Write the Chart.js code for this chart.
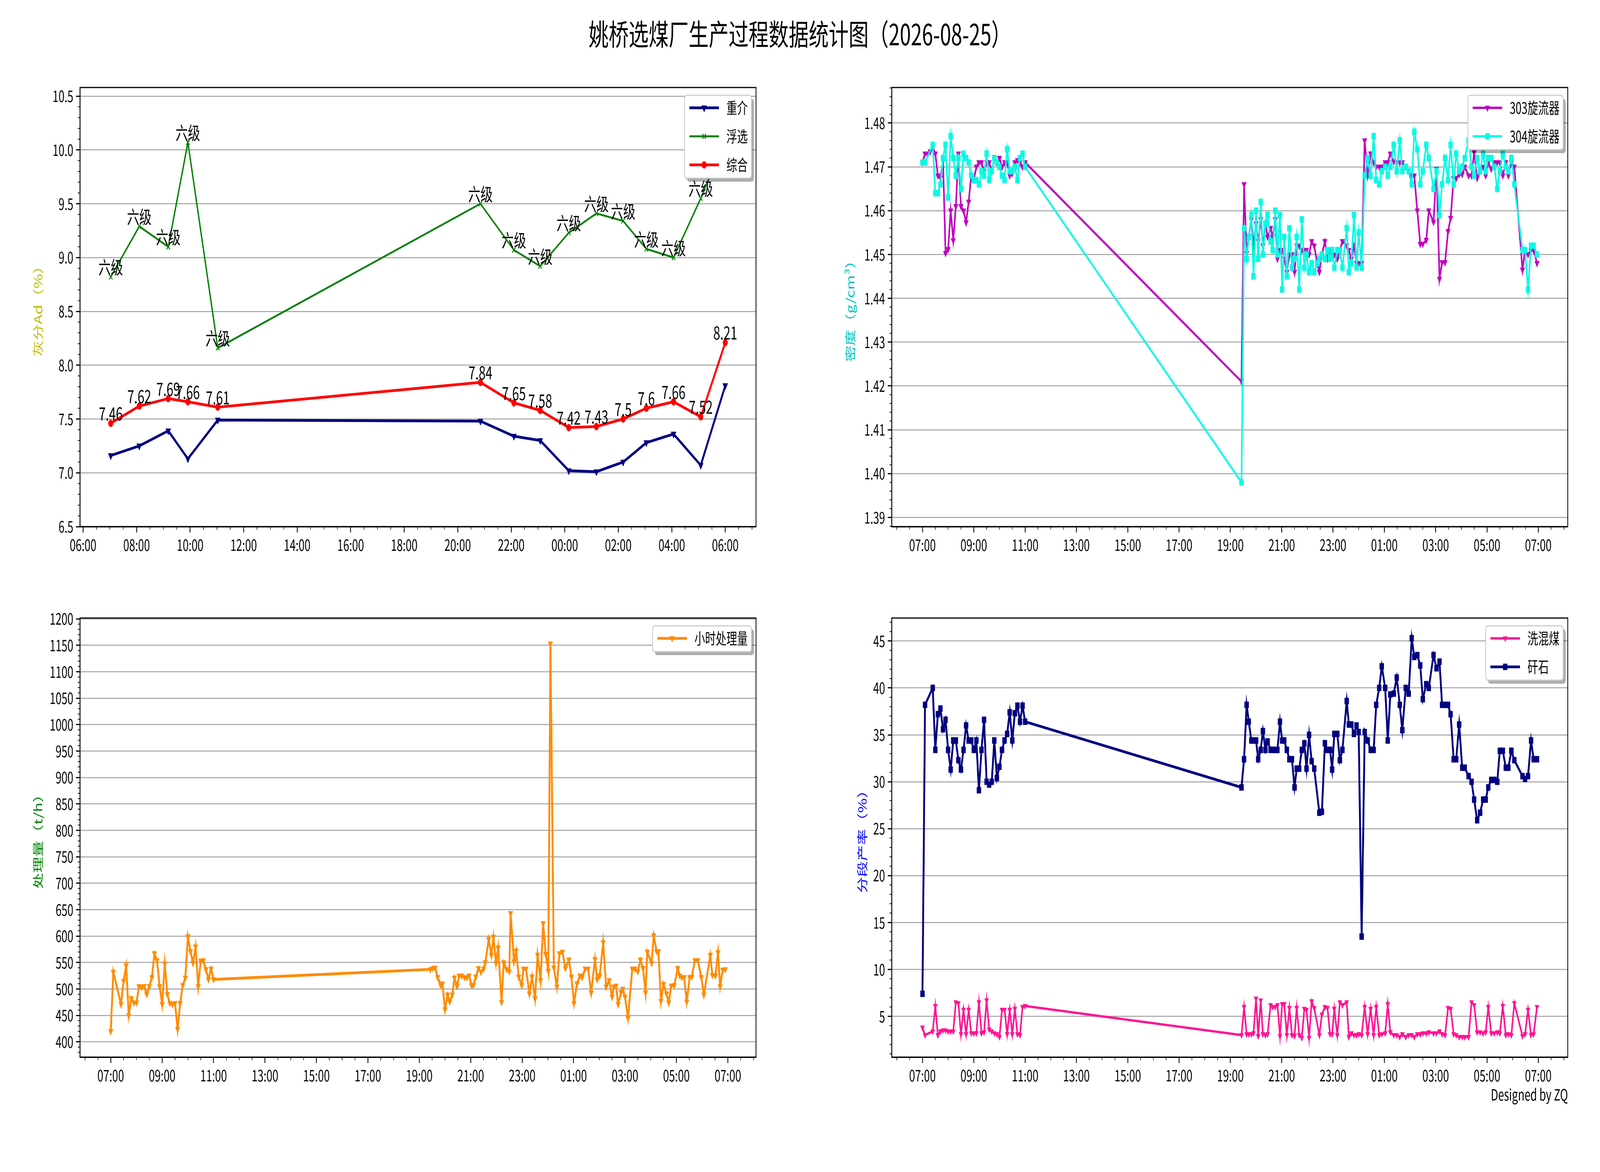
<!DOCTYPE html>
<html>
<head>
<meta charset="utf-8">
<script src="https://cdn.jsdelivr.net/npm/chart.js@4.4.1/dist/chart.umd.min.js"></script>
<style>
  html, body { margin: 0; background: #fff; overflow: hidden; }
  body { font-family: 'Noto Sans CJK SC', sans-serif; }
  #stage { position: absolute; left: 0; top: 0; width: 6000px; height: 3000px; transform-origin: 0 0; background: #fff; }
  .panel { position: absolute; }
  #title { position: absolute; left: 0; width: 6000px; top: 38px; text-align: center; font-size: 75px; line-height: 92px; }
  #sign { position: absolute; right: 120px; top: 2776px; font-size: 40px; line-height: 48px; }
</style>
</head>
<body>
<div id="stage">
  <div id="title">姚桥选煤厂生产过程数据统计图（2026-08-25）</div>
  <div class="panel" style="left:0;top:190px;width:2855px;height:1328px"><canvas id="ash"></canvas></div>
  <div class="panel" style="left:3044px;top:190px;width:2855px;height:1328px"><canvas id="dens"></canvas></div>
  <div class="panel" style="left:0;top:1548px;width:2855px;height:1328px"><canvas id="flow"></canvas></div>
  <div class="panel" style="left:3044px;top:1548px;width:2855px;height:1328px"><canvas id="yield"></canvas></div>
  <div id="sign">Designed by ZQ</div>
</div>
<script>
// ---- ash (top left)
const ashTimes = ['07:02','08:06','09:11','09:55','11:02','20:51','22:06','23:05','00:09','01:11','02:11','03:03','04:04','05:05','06:00'];
const heavyAsh = [7.16, 7.25, 7.39, 7.13, 7.49, 7.48, 7.34, 7.30, 7.02, 7.01, 7.10, 7.28, 7.36, 7.07, 7.81];
const flotAsh  = [8.82, 9.29, 9.10, 10.07, 8.16, 9.50, 9.07, 8.92, 9.23, 9.41, 9.34, 9.08, 9.00, 9.55, 10.10];
const mixAsh   = [7.46, 7.62, 7.69, 7.66, 7.61, 7.84, 7.65, 7.58, 7.42, 7.43, 7.5, 7.6, 7.66, 7.52, 8.21];
const flotGrade = ['六级','六级','六级','六级','六级','六级','六级','六级','六级','六级','六级','六级','六级','六级','六级'];
const ashTicks = [6.5, 7.0, 7.5, 8.0, 8.5, 9.0, 9.5, 10.0, 10.5];
const ashHourTicks = ['06:00','08:00','10:00','12:00','14:00','16:00','18:00','20:00','22:00','00:00','02:00','04:00','06:00'];

// ---- shared sample times (density, yields)
const timesA = ('07:00 07:06 07:12 07:18 07:24 07:30 07:36 07:42 07:48 07:54 08:00 08:06 08:12 08:18 08:24 08:30 08:36 08:42 08:48 08:54 ' +
  '09:00 09:06 09:12 09:18 09:24 09:30 09:36 09:42 09:48 09:54 10:00 10:06 10:12 10:18 10:24 10:30 10:36 10:42 10:48 10:54 11:00').split(' ');
const gapTime = ['19:26'];
const timesB1 = ('19:32 19:38 19:43 19:49 19:54 20:00 20:05 20:11 20:16 20:22 20:27 20:34 20:39 20:45 20:50 20:56 21:01 21:06 21:12 21:18 ' +
  '21:24 21:30 21:35 21:41 21:47 21:53 21:58 22:04 22:10 22:16 22:23 22:28 22:34 22:41 22:47 22:53 22:58 23:03 23:10 23:16 ' +
  '23:22 23:32 23:37 23:43 23:49 23:55 00:00 00:07 00:14 00:21 00:28 00:35 00:41 00:48 00:54 01:02 01:08 01:14').split(' ');
const timesB2 = ('01:22 01:29 01:36 01:42 01:50 01:57 02:04 02:10 02:17 02:24 02:30 02:38 02:44 02:55 03:02 03:09 03:15 03:22 03:29 03:35 ' +
  '03:42 03:48 03:55 04:02 04:08 04:17 04:24 04:30 04:37 04:44 04:51 04:57 05:03 05:10 05:17 05:24 05:30 05:37 05:44 05:50 ' +
  '05:57 06:04 06:11 06:18 06:23 06:29 06:36 06:43 06:49 06:57').split(' ');
const dayHourTicks = ['07:00','09:00','11:00','13:00','15:00','17:00','19:00','21:00','23:00','01:00','03:00','05:00','07:00'];

// ---- density (top right)
const c303A = [1.471, 1.473, 1.473, 1.4735, 1.4745, 1.473, 1.468, 1.4675, 1.4715, 1.4503, 1.4512, 1.460, 1.4532, 1.461, 1.473, 1.461,
  1.460, 1.4573, 1.462, 1.468, 1.467, 1.470, 1.471, 1.471, 1.469, 1.471, 1.471, 1.469, 1.472, 1.471, 1.472, 1.470, 1.471, 1.471,
  1.468, 1.4685, 1.471, 1.4715, 1.471, 1.470, 1.471];
const c303Gap = [1.421];
const c303B1 = [1.466, 1.4503, 1.454, 1.458, 1.452, 1.457, 1.453, 1.458, 1.452, 1.457, 1.454, 1.456, 1.454, 1.458, 1.449, 1.451,
  1.451, 1.449, 1.446, 1.450, 1.450, 1.446, 1.452, 1.452, 1.451, 1.451, 1.451, 1.450, 1.453, 1.452, 1.448, 1.446, 1.450, 1.453,
  1.449, 1.451, 1.450, 1.450, 1.449, 1.451, 1.453, 1.452, 1.451, 1.449, 1.452, 1.448, 1.448, 1.448, 1.476, 1.468, 1.473, 1.471,
  1.470, 1.470, 1.470, 1.471, 1.471, 1.473];
const c303B2 = [1.4712, 1.471, 1.471, 1.471, 1.470, 1.469, 1.468, 1.468, 1.460, 1.4524, 1.4524, 1.4533, 1.460, 1.4574, 1.4695, 1.4444,
  1.4482, 1.4482, 1.4553, 1.4583, 1.4674, 1.4674, 1.4683, 1.4683, 1.470, 1.468, 1.468, 1.4733, 1.4674, 1.469, 1.470, 1.468, 1.471,
  1.4695, 1.471, 1.471, 1.471, 1.468, 1.471, 1.468, 1.471, 1.470, null, null, 1.4465, 1.451, 1.450, 1.451, 1.451, 1.448];
const c304A = [1.471, 1.471, null, null, 1.475, 1.464, 1.464, 1.466, 1.472, 1.475, 1.463, 1.477, 1.472, 1.468, 1.472, 1.465, 1.473,
  1.472, 1.471, 1.468, 1.467, 1.467, 1.466, 1.469, 1.468, 1.473, 1.467, 1.469, 1.472, 1.471, 1.470, 1.468, 1.467, 1.474, 1.469,
  1.469, 1.470, 1.467, 1.472, 1.473, 1.470];
const c304Gap = [1.398];
const c304B1 = [1.456, 1.449, 1.454, 1.459, 1.445, 1.460, 1.449, 1.462, 1.450, 1.457, 1.459, 1.453, 1.451, 1.460, 1.450, 1.459,
  1.442, 1.454, 1.445, 1.456, 1.447, 1.449, 1.454, 1.442, 1.458, 1.447, 1.450, 1.446, 1.448, 1.446, 1.448, 1.449, 1.450, 1.449,
  1.451, 1.449, 1.451, 1.447, 1.451, 1.451, 1.447, 1.456, 1.446, 1.448, 1.459, 1.447, 1.455, 1.447, 1.468, 1.472, 1.468, 1.477,
  1.467, 1.466, 1.469, 1.470, 1.468, 1.470];
const c304B2 = [1.475, 1.469, 1.476, 1.469, 1.470, 1.469, 1.466, 1.478, 1.474, 1.466, 1.469, 1.475, 1.472, 1.465, 1.469, 1.459,
  1.466, 1.472, 1.467, 1.475, 1.466, 1.473, 1.469, 1.470, 1.472, 1.476, 1.470, 1.468, 1.472, 1.469, 1.473, 1.469, 1.472, 1.472,
  1.470, 1.465, 1.469, 1.473, 1.470, 1.469, 1.472, 1.466, null, null, 1.451, 1.451, 1.442, 1.452, 1.452, 1.450];
const densTicks = [1.39, 1.40, 1.41, 1.42, 1.43, 1.44, 1.45, 1.46, 1.47, 1.48];

// ---- hourly throughput (bottom left)
const flowA = [420, 532, null, null, 471, 515, 544, 450, 482, 474, 474, 505, 503, 505, 490, 505, 522, 567, 554, 505, 471, 548, 490,
  473, 471, 473, 424, 473, 507, 521, 599, 571, 549, 580, 505, 553, 554, 537, 518, 538, 518];
const flowTimesB = ('19:26 19:32 19:37 19:43 19:50 19:54 20:00 20:06 20:11 20:17 20:22 20:28 20:33 20:39 20:45 20:51 20:56 21:02 21:06 21:12 ' +
  '21:18 21:24 21:30 21:34 21:42 21:48 21:53 21:59 22:04 22:12 22:17 22:24 22:30 22:33 22:41 22:46 22:52 22:59 23:03 23:09 ' +
  '23:17 23:23 23:30 23:36 23:43 23:49 23:55 00:01 00:06 00:14 00:21 00:27 00:34 00:41 00:49 00:55 01:01 01:08 01:15 01:20 ' +
  '01:27 01:34 01:41 01:50 01:55 02:01 02:09 02:16 02:23 02:30 02:34 02:39 02:44 02:51 02:55 03:00 03:07 03:17 03:23 03:30 ' +
  '03:36 03:42 03:48 03:52 04:02 04:07 04:14 04:18 04:24 04:30 04:37 04:42 04:48 04:55 05:03 05:08 05:13 05:18 05:24 05:31 ' +
  '05:36 05:43 05:50 05:58 06:04 06:19 06:24 06:31 06:37 06:42 06:48 06:54').split(' ');
const flowB = [537, 539, 540, 522, 507, 510, 461, 489, 476, 489, 521, 505, 525, 525, 522, 522, 525, 507, 507, 523,
  539, 532, 538, 550, 594, 564, 598, 549, 578, 475, 550, 537, 533, 643, 552, 572, 523, 507, 538, 538,
  491, 523, 482, 564, 516, 624, 566, 534, 1153, 540, 504, 567, 570, 539, 555, 523, 473, 510, 525, 522,
  538, 538, 493, 556, 518, 525, 588, 504, 516, 485, 504, 506, 471, 494, 500, 485, 445, 538, 538, 533,
  555, 539, 493, 570, 549, 601, 571, 571, 477, 509, 491, 474, 506, 507, 539, 525, 522, 522, 476, 522,
  523, 554, 554, 522, 489, 564, 526, 525, 569, 505, 536, 537];
const flowTicks = [400, 450, 500, 550, 600, 650, 700, 750, 800, 850, 900, 950, 1000, 1050, 1100, 1150, 1200];

// ---- section yields (bottom right)
const mixA = [3.8, 3.0, null, null, 3.4, 6.1, 3.0, 3.4, 3.5, 3.5, 3.4, 3.4, 3.4, 6.5, 6.4, 3.1, 5.7, 3.1, 5.7, 3.2, 3.2, 3.2,
  6.5, 3.2, 3.3, 6.7, 3.6, 3.4, 3.2, 3.1, 2.8, 5.7, 5.7, 3.1, 5.7, 3.1, 5.8, 3.1, 3.0, 6.0, 6.1];
const mixGap = [3.0];
const mixB1 = [6.0, 3.1, 3.1, 3.1, 3.2, 6.9, 2.9, 6.7, 3.1, 3.0, 3.1, 6.2, 6.0, 6.0, 6.2, 2.9, 6.3, 6.3, 3.0, 5.9,
  3.0, 2.9, 5.9, 3.0, 2.7, 5.8, 5.7, 2.7, 6.6, 5.9, null, 3.0, 5.2, 6.0, 5.9, 3.1, 3.1, 5.8, 3.0, 6.5,
  6.2, 6.5, 2.8, 3.2, 3.0, 3.0, 3.1, 3.0, 6.0, 3.1, 5.8, 3.0, 6.0, 3.0, 3.1, 3.2, 6.3, 3.3];
const mixB2 = [3.0, 3.0, 2.8, 3.1, 2.8, 3.0, 3.0, 2.8, 3.1, 3.1, 3.2, 3.2, 3.3, 3.2, 3.2, 3.4, 3.1, 3.0, 5.9, 5.8,
  3.1, 3.0, 2.8, 2.8, 2.8, 2.8, 6.5, 6.2, 3.3, 3.3, 3.2, 3.3, 6.0, 3.2, 3.2, 3.3, 3.2, 6.1, 3.0, 3.1,
  3.0, 6.4, null, null, 2.9, 3.1, 5.7, 3.0, 3.1, 6.0];
const gangA = [7.4, 38.2, null, null, 40.0, 33.4, 37.2, 37.8, 35.6, 36.6, 33.4, 31.3, 34.4, 34.4, 32.3, 31.3, 33.4, 36.0, 34.4,
  34.4, 33.4, 34.4, 29.1, 33.4, 36.6, 30.0, 29.7, 30.0, 34.4, 30.4, 31.6, 33.4, 34.4, 35.1, 37.4, 34.4, 37.3, 38.1, 36.4, 38.1, 36.4];
const gangGap = [29.4];
const gangB1 = [32.4, 38.2, 36.4, 34.4, 34.4, 34.4, 32.4, 33.4, 35.4, 33.4, 34.3, 33.4, 33.4, 33.4, 33.4, 36.4, 34.4, 34.4, 33.4, 32.4,
  32.4, 29.4, 31.4, 31.4, 33.4, 34.1, 31.4, 35.0, 32.2, 31.4, null, 26.7, 26.8, 34.1, 33.4, 33.4, 31.3, 35.1, 35.1, 32.3,
  33.4, 38.6, 36.1, 36.1, 35.1, 36.0, 35.3, 13.5, 35.3, 34.4, 33.4, 33.4, 38.2, 40.0, 42.3, 40.0, 34.4, 39.3];
const gangB2 = [39.4, 41.1, 38.2, 35.5, 40.0, 39.4, 45.3, 43.3, 43.5, 42.4, 38.8, 40.4, 40.0, 43.5, 42.1, 42.8, 38.2, 38.2, 38.2, 37.2,
  32.4, 32.4, 36.1, 31.5, 31.5, 30.6, 30.0, 28.1, 25.9, 26.7, 28.1, 28.1, 29.4, 30.2, 30.2, 30.0, 33.3, 33.3, 31.5, 31.5,
  33.3, 32.3, null, null, 30.6, 30.3, 30.6, 34.4, 32.4, 32.4];
const yieldTicks = [5, 10, 15, 20, 25, 30, 35, 40, 45];

// ---------------------------------------------------------------
const FONT = "'Noto Sans CJK SC', sans-serif";
Chart.defaults.font.family = FONT;

// the drawing is laid out at 6000x3000; stretch it onto the real viewport
const stage = document.getElementById('stage');
const sx = window.innerWidth / 6000, sy = window.innerHeight / 3000;
if (Math.abs(sx - 1) > 0.001 || Math.abs(sy - 1) > 0.001) stage.style.transform = 'scale(' + sx + ',' + sy + ')';

// "HH:MM" list -> hours, rolling into the next day when the clock goes back
function toHours(list) {
  let day = 0, prev = -1;
  return list.map(s => {
    const [h, m] = s.split(':').map(Number);
    const v = h + m / 60;
    if (v < prev) day += 24;
    prev = v;
    return v + day;
  });
}
function fmtHour(v) {
  const h = ((Math.round(v) % 24) + 24) % 24;
  return String(h).padStart(2, '0') + ':00';
}

function series(label, xs, ys, color, style, r, lw, order) {
  return {
    label, order,
    data: xs.map((x, i) => ({ x, y: ys[i] })),
    borderColor: color, backgroundColor: color, borderWidth: lw,
    pointStyle: style, pointRotation: style === 'triangle' ? 180 : 0, pointRadius: r,
    pointBackgroundColor: color, pointBorderColor: color, pointBorderWidth: style === 'crossRot' ? 3 : 1,
    spanGaps: true, tension: 0
  };
}

const decor = {
  id: 'decor',
  afterDatasetsDraw(chart, args, o) {
    if (!o.notes) return;
    const ctx = chart.ctx;
    ctx.save();
    ctx.font = '46px ' + FONT;
    ctx.fillStyle = '#000';
    ctx.textAlign = 'center';
    ctx.textBaseline = 'bottom';
    o.notes.forEach(n => {
      chart.getDatasetMeta(n.ds).data.forEach((p, i) => {
        if (n.texts[i] != null) ctx.fillText(n.texts[i], p.x, p.y - 2);
      });
    });
    ctx.restore();
  },
  afterDraw(chart, args, o) {
    const ctx = chart.ctx, a = chart.chartArea, xs = chart.scales.x, ys = chart.scales.y;
    ctx.save();
    // spines
    ctx.strokeStyle = '#000';
    ctx.lineWidth = 3;
    ctx.strokeRect(a.left, a.top, a.right - a.left, a.bottom - a.top);
    // minor ticks
    ctx.lineWidth = 2;
    ctx.beginPath();
    for (let k = Math.ceil(xs.min / o.xMinor); k * o.xMinor <= xs.max; k++) {
      const px = xs.getPixelForValue(k * o.xMinor);
      ctx.moveTo(px, a.bottom); ctx.lineTo(px, a.bottom + 8);
    }
    for (let k = Math.ceil(ys.min / o.yMinor - 1e-6); k * o.yMinor <= ys.max + 1e-9; k++) {
      const py = ys.getPixelForValue(k * o.yMinor);
      ctx.moveTo(a.left, py); ctx.lineTo(a.left - 8, py);
    }
    ctx.stroke();
    // y title
    ctx.save();
    ctx.translate(a.left - o.yTitle.offset, (a.top + a.bottom) / 2);
    ctx.rotate(-Math.PI / 2);
    ctx.font = '41px ' + FONT;
    ctx.fillStyle = o.yTitle.color;
    ctx.textAlign = 'center';
    ctx.textBaseline = 'middle';
    ctx.fillText(o.yTitle.text, 0, 0);
    ctx.restore();
    // legend with shadow
    ctx.font = '40px ' + FONT;
    const items = o.legend;
    const tw = Math.max(...items.map(it => ctx.measureText(chart.data.datasets[it].label).width));
    const w = 18 + 111 + 28 + tw + 14, h = 66 + 73 * (items.length - 1);
    const x0 = a.right - 17 - w, y0 = a.top + 20;
    ctx.fillStyle = 'rgba(0,0,0,0.32)';
    ctx.beginPath(); ctx.roundRect(x0 + 9, y0 + 9, w, h, 8); ctx.fill();
    ctx.fillStyle = '#fff';
    ctx.strokeStyle = '#cccccc';
    ctx.lineWidth = 3;
    ctx.beginPath(); ctx.roundRect(x0, y0, w, h, 8); ctx.fill(); ctx.stroke();
    items.forEach((di, i) => {
      const ds = chart.data.datasets[di];
      const cy = y0 + 32 + 73 * i;
      ctx.strokeStyle = ds.borderColor;
      ctx.lineWidth = ds.borderWidth;
      ctx.beginPath(); ctx.moveTo(x0 + 18, cy); ctx.lineTo(x0 + 129, cy); ctx.stroke();
      ctx.fillStyle = ds.pointBackgroundColor;
      ctx.strokeStyle = ds.pointBorderColor;
      ctx.lineWidth = ds.pointBorderWidth;
      Chart.helpers.drawPoint(ctx, { pointStyle: ds.pointStyle, rotation: ds.pointRotation, radius: ds.pointRadius,
        borderWidth: ds.pointBorderWidth }, x0 + 73.5, cy);
      ctx.fillStyle = '#000';
      ctx.textAlign = 'left';
      ctx.textBaseline = 'middle';
      ctx.fillText(ds.label, x0 + 157, cy);
    });
    ctx.restore();
  }
};

function makeChart(id, datasets, opt) {
  const allX = datasets.flatMap(d => d.data.map(p => p.x));
  const lo = Math.min(...allX), hi = Math.max(...allX), pad = (hi - lo) * 0.05;
  const tickFont = { size: 40, family: FONT };
  return new Chart(document.getElementById(id), {
    type: 'line',
    data: { datasets },
    options: {
      responsive: true, maintainAspectRatio: false, animation: false, devicePixelRatio: 1,
      layout: { padding: { left: 0, top: 20, right: 20, bottom: 0 } },
      plugins: {
        legend: { display: false }, tooltip: { enabled: false },
        decor: { xMinor: 0.5, yMinor: opt.yMinor, yTitle: opt.yTitle, legend: opt.legend, notes: opt.notes }
      },
      scales: {
        x: {
          type: 'linear', min: lo - pad, max: hi + pad,
          afterBuildTicks: s => { s.ticks = opt.xTicks.map(v => ({ value: v })); },
          afterFit: s => { s.height = 170; },
          ticks: { callback: v => fmtHour(v), font: tickFont, color: '#000', padding: 8, maxRotation: 0, autoSkip: false },
          grid: { drawOnChartArea: false, drawTicks: true, tickLength: 15, tickWidth: 3, tickColor: '#000' },
          border: { display: true, color: '#000', width: 3 }
        },
        y: {
          type: 'linear', min: opt.yMin, max: opt.yMax,
          afterBuildTicks: s => { s.ticks = opt.yTicks.map(v => ({ value: v })); },
          afterFit: s => { s.width = 300; },
          ticks: { callback: opt.yFmt, font: tickFont, color: '#000', padding: 10, autoSkip: false },
          grid: { color: '#b0b0b0', lineWidth: 3, drawTicks: true, tickLength: 15, tickWidth: 3, tickColor: '#000' },
          border: { display: true, color: '#000', width: 3 }
        }
      }
    },
    plugins: [decor]
  });
}

// ---- top left
const ashX = toHours(ashTimes);
makeChart('ash', [
  series('重介', ashX, heavyAsh, '#000080', 'triangle', 11, 7, 2),
  series('浮选', ashX, flotAsh, '#008000', 'crossRot', 9, 5, 1),
  series('综合', ashX, mixAsh, '#ff0000', 'circle', 9, 7, 0)
], {
  xTicks: toHours(ashHourTicks), yTicks: ashTicks, yMin: 6.5, yMax: 10.58, yMinor: 0.1,
  yFmt: v => v.toFixed(1),
  yTitle: { text: '灰分Ad（%）', color: '#bfbf00', offset: 158 },
  legend: [0, 1, 2],
  notes: [{ ds: 1, texts: flotGrade }, { ds: 2, texts: mixAsh.map(String) }]
});

// ---- top right
const denX = toHours([...timesA, ...gapTime, ...timesB1, ...timesB2]);
makeChart('dens', [
  series('303旋流器', denX, [...c303A, ...c303Gap, ...c303B1, ...c303B2], '#bf00bf', 'triangle', 10, 6, 1),
  series('304旋流器', denX, [...c304A, ...c304Gap, ...c304B1, ...c304B2], '#0af9e3', 'rect', 11, 6, 0)
], {
  xTicks: toHours(dayHourTicks), yTicks: densTicks, yMin: 1.3879, yMax: 1.4881, yMinor: 0.002,
  yFmt: v => v.toFixed(2),
  yTitle: { text: '密度（g/cm³）', color: '#00bfbf', offset: 156 },
  legend: [0, 1]
});

// ---- bottom left
const flowX = toHours([...timesA, ...flowTimesB]);
makeChart('flow', [
  series('小时处理量', flowX, [...flowA, ...flowB], '#ff8c00', 'triangle', 10, 7, 0)
], {
  xTicks: toHours(dayHourTicks), yTicks: flowTicks, yMin: 371, yMax: 1201.5, yMinor: 10,
  yFmt: v => String(v),
  yTitle: { text: '处理量（t/h）', color: '#008000', offset: 158 },
  legend: [0]
});

// ---- bottom right
makeChart('yield', [
  series('洗混煤', denX, [...mixA, ...mixGap, ...mixB1, ...mixB2], '#ff1493', 'triangle', 9, 6, 1),
  series('矸石', denX, [...gangA, ...gangGap, ...gangB1, ...gangB2], '#000080', 'rect', 11, 7, 0)
], {
  xTicks: toHours(dayHourTicks), yTicks: yieldTicks, yMin: 0.65, yMax: 47.45, yMinor: 1,
  yFmt: v => String(v),
  yTitle: { text: '分段产率（%）', color: '#0000ff', offset: 111 },
  legend: [0, 1]
});
</script>
</body>
</html>
